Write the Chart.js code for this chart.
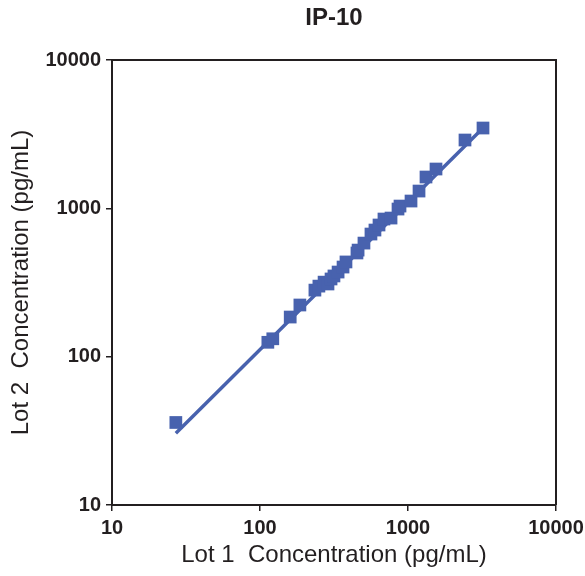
<!DOCTYPE html>
<html>
<head>
<meta charset="utf-8">
<script src="https://cdn.jsdelivr.net/npm/chart.js@4/dist/chart.umd.min.js"></script>
<style>
    html, body { margin: 0; padding: 0; background: #ffffff; }
    #chart_wrap { width: 585px; height: 576px; }
</style>
</head>
<body>
<div id="chart_wrap"><canvas id="ip10_chart"></canvas></div>
<script>
// values
const lot1_values = [27, 113, 122, 160, 186, 235, 250, 271, 288, 302, 316, 337, 364, 381,
    452, 460, 504, 562, 598, 637, 688, 768, 856, 883, 1048, 1187, 1323, 1546, 2427, 3212];
const lot2_values = [36, 125, 132, 185, 223, 281, 299, 318, 309, 334, 350, 372, 402, 435,
    500, 523, 583, 671, 714, 772, 847, 860, 989, 1036, 1120, 1308, 1626, 1841, 2888, 3479];
const fit_x = [27, 3212];
const fit_y = [30.5, 3475];
const tick_values = [10, 100, 1000, 10000];

const series_colour = "#4862ae";
const axis_colour = "#231f20";
const font_family = "'Liberation Sans', Arial, sans-serif";

const ip10_canvas = document.getElementById("ip10_chart");
const ip10_context = ip10_canvas.getContext("2d");

let point_data = lot1_values.map((x, i) => ({ x: x, y: lot2_values[i] }));
let fit_data = fit_x.map((x, i) => ({ x: x, y: fit_y[i] }));

// closes the frame along the top and right of the plot
const frame_plugin = {
    id: "frame",
    afterDatasetsDraw(chart) {
        let area = chart.chartArea;
        let ctx = chart.ctx;
        ctx.save();
        ctx.strokeStyle = axis_colour;
        ctx.lineWidth = 2;
        ctx.beginPath();
        ctx.moveTo(area.left, area.top);
        ctx.lineTo(area.right, area.top);
        ctx.lineTo(area.right, area.bottom);
        ctx.stroke();
        ctx.restore();
    }
};

function logAxis(title_text, title_padding) {
    return {
        type: "logarithmic",
        min: 10,
        max: 10000,
        afterBuildTicks: function(scale) {
            scale.ticks = tick_values.map(v => ({ value: v }));
        },
        ticks: {
            color: axis_colour,
            padding: 5,
            autoSkip: false,
            maxRotation: 0,
            font: { size: 20, weight: "bold", family: font_family },
            callback: function(value) { return String(value); }
        },
        grid: {
            drawOnChartArea: false,
            drawTicks: true,
            tickLength: 6,
            color: axis_colour,
            lineWidth: 1.5
        },
        border: { display: true, color: axis_colour, width: 2 },
        title: {
            display: true,
            text: title_text,
            color: axis_colour,
            padding: title_padding,
            font: { size: 24, family: font_family }
        }
    };
}

let x_axis = logAxis("Lot 1  Concentration (pg/mL)", { top: 0, bottom: 6 });
x_axis.afterFit = function(scale) {
    scale.height = 71;
    scale.paddingLeft = 0;
    scale.paddingRight = 0;
};
let y_axis = logAxis("Lot 2  Concentration (pg/mL)", { top: 7, bottom: 0 });
y_axis.afterFit = function(scale) {
    scale.width = 112;
    scale.paddingTop = 0;
    scale.paddingBottom = 0;
};

var ip10_chart = new Chart(ip10_context, {
    type: "scatter",
    data: {
        datasets: [{
            label: "Fit",
            data: fit_data,
            showLine: true,
            borderColor: series_colour,
            borderWidth: 3.5,
            pointRadius: 0,
            order: 2
        }, {
            label: "IP-10",
            data: point_data,
            pointStyle: "rect",
            pointRadius: 9,
            pointBackgroundColor: series_colour,
            pointBorderWidth: 0,
            order: 1
        }]
    },
    options: {
        responsive: true,
        maintainAspectRatio: false,
        animation: false,
        layout: { padding: { left: 0, right: 29, top: 0, bottom: 0 } },
        plugins: {
            legend: { display: false },
            tooltip: { enabled: false },
            title: {
                display: true,
                text: "IP-10",
                fullSize: false,
                color: axis_colour,
                padding: { top: 4, bottom: 27.2 },
                font: { size: 24, weight: "bold", family: font_family }
            }
        },
        scales: { x: x_axis, y: y_axis }
    },
    plugins: [frame_plugin]
});
</script>
</body>
</html>
